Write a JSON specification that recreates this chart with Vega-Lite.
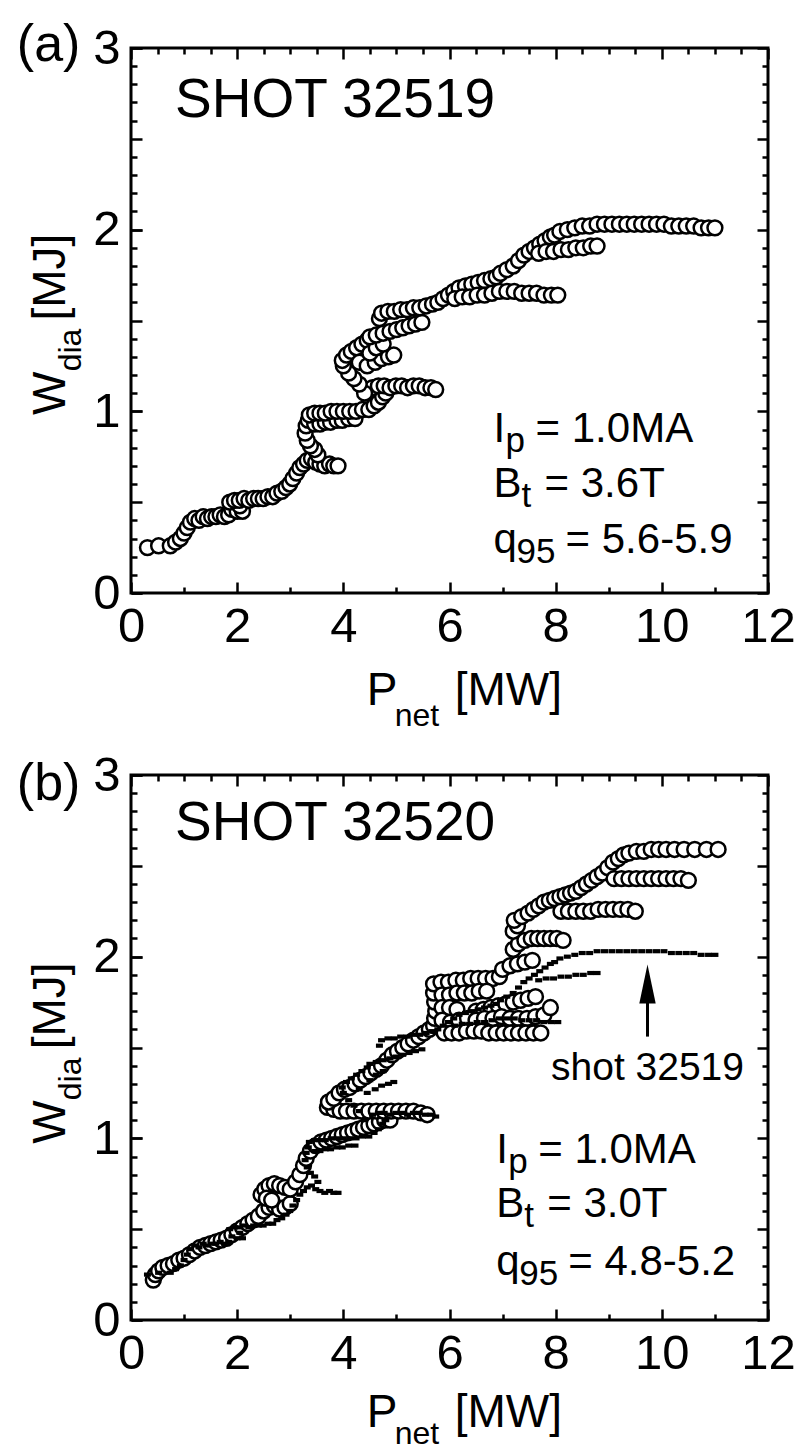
{
"$schema": "https://vega.github.io/schema/vega-lite/v6.json",
"padding": {"left": 15, "top": 17, "right": 0, "bottom": 0},
"spacing": 182,
"bounds": "flush",
"datasets": {
"shot32519": [
{"P":0.31,"W":0.25},{"P":0.52,"W":0.26},{"P":0.74,"W":0.26},{"P":0.84,"W":0.28},{"P":0.93,"W":0.30},{"P":1.0,"W":0.33},{"P":1.06,"W":0.36},{"P":1.12,"W":0.39},
{"P":1.2,"W":0.41},{"P":1.28,"W":0.40},{"P":1.36,"W":0.42},{"P":1.44,"W":0.41},{"P":1.52,"W":0.42},{"P":1.6,"W":0.42},{"P":1.68,"W":0.43},{"P":1.76,"W":0.42},{"P":1.84,"W":0.43},
{"P":1.9,"W":0.46},{"P":2.0,"W":0.45},{"P":2.1,"W":0.45},{"P":2.05,"W":0.48},
{"P":1.86,"W":0.50},{"P":1.95,"W":0.51},{"P":2.04,"W":0.51},{"P":2.13,"W":0.52},{"P":2.22,"W":0.51},{"P":2.31,"W":0.52},{"P":2.4,"W":0.52},{"P":2.49,"W":0.52},{"P":2.58,"W":0.53},{"P":2.67,"W":0.53},{"P":2.75,"W":0.55},
{"P":2.84,"W":0.56},{"P":2.92,"W":0.58},{"P":2.99,"W":0.6},{"P":3.05,"W":0.63},{"P":3.12,"W":0.66},{"P":3.18,"W":0.69},{"P":3.25,"W":0.71},{"P":3.32,"W":0.73},
{"P":3.4,"W":0.74},{"P":3.48,"W":0.72},{"P":3.56,"W":0.71},{"P":3.65,"W":0.70},{"P":3.74,"W":0.71},{"P":3.82,"W":0.70},{"P":3.9,"W":0.70},{"P":3.52,"W":0.76},{"P":3.46,"W":0.79},{"P":3.38,"W":0.81},
{"P":3.32,"W":0.84},{"P":3.28,"W":0.88},{"P":3.3,"W":0.92},{"P":3.34,"W":0.95},
{"P":3.46,"W":0.93},{"P":3.56,"W":0.93},{"P":3.66,"W":0.94},{"P":3.76,"W":0.94},{"P":3.88,"W":0.95},{"P":3.98,"W":0.95},{"P":4.1,"W":0.96},{"P":4.22,"W":0.96},
{"P":3.36,"W":0.98},{"P":3.46,"W":0.99},{"P":3.56,"W":0.99},{"P":3.66,"W":0.99},{"P":3.77,"W":1.0},{"P":3.88,"W":1.0},{"P":4.0,"W":1.0},{"P":4.12,"W":1.0},{"P":4.24,"W":1.0},{"P":4.36,"W":1.01},{"P":4.48,"W":1.01},
{"P":4.58,"W":1.03},{"P":4.66,"W":1.05},{"P":4.74,"W":1.08},{"P":4.8,"W":1.1},
{"P":4.55,"W":1.13},{"P":4.66,"W":1.14},{"P":4.77,"W":1.14},{"P":4.88,"W":1.13},{"P":4.99,"W":1.14},{"P":5.1,"W":1.14},{"P":5.21,"W":1.13},{"P":5.32,"W":1.14},{"P":5.43,"W":1.14},{"P":5.54,"W":1.13},{"P":5.65,"W":1.13},{"P":5.74,"W":1.12},
{"P":4.4,"W":1.1},{"P":4.3,"W":1.15},{"P":4.2,"W":1.18},{"P":4.1,"W":1.21},{"P":4.0,"W":1.25},{"P":3.98,"W":1.28},{"P":4.06,"W":1.31},{"P":4.15,"W":1.33},{"P":4.25,"W":1.35},{"P":4.35,"W":1.37},{"P":4.45,"W":1.39},{"P":4.3,"W":1.27},{"P":4.45,"W":1.25},{"P":4.6,"W":1.27},{"P":4.72,"W":1.29},{"P":4.85,"W":1.3},{"P":4.95,"W":1.31},{"P":4.5,"W":1.32},{"P":4.62,"W":1.35},{"P":4.75,"W":1.37},
{"P":4.5,"W":1.41},{"P":4.62,"W":1.42},{"P":4.75,"W":1.43},{"P":4.88,"W":1.44},{"P":5.0,"W":1.45},{"P":5.12,"W":1.46},{"P":5.24,"W":1.47},{"P":5.36,"W":1.48},{"P":5.48,"W":1.49},
{"P":4.68,"W":1.51},
{"P":4.72,"W":1.54},{"P":4.84,"W":1.55},{"P":4.96,"W":1.55},{"P":5.08,"W":1.56},{"P":5.2,"W":1.56},{"P":5.32,"W":1.57},{"P":5.44,"W":1.57},{"P":5.56,"W":1.58},{"P":5.68,"W":1.59},{"P":5.78,"W":1.6},
{"P":5.88,"W":1.62},{"P":5.98,"W":1.64},{"P":6.08,"W":1.66},{"P":6.18,"W":1.68},{"P":6.3,"W":1.69},{"P":6.42,"W":1.7},{"P":6.54,"W":1.71},{"P":6.66,"W":1.72},{"P":6.78,"W":1.73},{"P":6.88,"W":1.74},
{"P":6.1,"W":1.62},{"P":6.24,"W":1.63},{"P":6.38,"W":1.63},{"P":6.52,"W":1.64},{"P":6.66,"W":1.64},{"P":6.8,"W":1.65},{"P":6.94,"W":1.66},{"P":7.08,"W":1.66},{"P":7.22,"W":1.66},{"P":7.36,"W":1.65},{"P":7.5,"W":1.65},{"P":7.64,"W":1.65},{"P":7.78,"W":1.64},{"P":7.92,"W":1.64},{"P":8.04,"W":1.64},
{"P":6.96,"W":1.76},{"P":7.08,"W":1.78},{"P":7.2,"W":1.8},{"P":7.3,"W":1.83},{"P":7.4,"W":1.86},{"P":7.5,"W":1.88},{"P":7.6,"W":1.9},{"P":7.7,"W":1.92},{"P":7.8,"W":1.94},{"P":7.9,"W":1.96},{"P":7.98,"W":1.97},
{"P":7.68,"W":1.87},{"P":7.82,"W":1.88},{"P":7.96,"W":1.88},{"P":8.1,"W":1.89},{"P":8.24,"W":1.89},{"P":8.38,"W":1.9},{"P":8.52,"W":1.9},{"P":8.66,"W":1.91},{"P":8.78,"W":1.91},
{"P":8.08,"W":1.99},{"P":8.22,"W":2.0},{"P":8.36,"W":2.01},{"P":8.5,"W":2.02},{"P":8.64,"W":2.02},{"P":8.78,"W":2.03},{"P":8.92,"W":2.03},{"P":9.06,"W":2.03},{"P":9.2,"W":2.03},{"P":9.34,"W":2.03},{"P":9.48,"W":2.03},{"P":9.62,"W":2.03},{"P":9.76,"W":2.03},{"P":9.9,"W":2.03},{"P":10.04,"W":2.03},{"P":10.18,"W":2.02},{"P":10.32,"W":2.02},{"P":10.46,"W":2.02},{"P":10.6,"W":2.02},{"P":10.74,"W":2.01},{"P":10.88,"W":2.01},{"P":11.0,"W":2.01}
],
"shot32520": [
{"P":0.42,"W":0.22},{"P":0.46,"W":0.25},{"P":0.52,"W":0.27},{"P":0.6,"W":0.29},{"P":0.7,"W":0.30},{"P":0.8,"W":0.31},{"P":0.9,"W":0.33},{"P":1.0,"W":0.34},{"P":1.1,"W":0.36},{"P":1.2,"W":0.38},{"P":1.3,"W":0.40},{"P":1.4,"W":0.41},{"P":1.5,"W":0.42},{"P":1.6,"W":0.43},{"P":1.7,"W":0.44},{"P":1.8,"W":0.45},{"P":1.9,"W":0.47},{"P":2.0,"W":0.49},{"P":2.1,"W":0.51},{"P":2.2,"W":0.53},{"P":2.3,"W":0.55},{"P":2.4,"W":0.57},{"P":2.5,"W":0.6},{"P":2.6,"W":0.62},{"P":2.7,"W":0.63},{"P":2.8,"W":0.61},{"P":2.9,"W":0.62},{"P":3.0,"W":0.64},
{"P":2.45,"W":0.69},{"P":2.52,"W":0.72},{"P":2.6,"W":0.74},{"P":2.7,"W":0.75},{"P":2.8,"W":0.74},{"P":2.9,"W":0.73},{"P":3.0,"W":0.72},{"P":2.55,"W":0.67},{"P":2.65,"W":0.66},
{"P":3.1,"W":0.76},{"P":3.18,"W":0.8},{"P":3.25,"W":0.85},{"P":3.3,"W":0.89},{"P":3.38,"W":0.93},{"P":3.48,"W":0.96},{"P":3.58,"W":0.98},{"P":3.68,"W":0.99},{"P":3.78,"W":1.0},{"P":3.88,"W":1.01},{"P":3.98,"W":1.02},{"P":4.08,"W":1.03},{"P":4.18,"W":1.04},{"P":4.28,"W":1.05},{"P":4.38,"W":1.06},{"P":4.48,"W":1.07},{"P":4.58,"W":1.08},{"P":4.68,"W":1.09},{"P":4.78,"W":1.1},{"P":4.88,"W":1.1},
{"P":3.7,"W":1.17},{"P":3.82,"W":1.16},{"P":3.94,"W":1.15},{"P":4.06,"W":1.15},{"P":4.2,"W":1.15},{"P":4.34,"W":1.15},{"P":4.48,"W":1.15},{"P":4.62,"W":1.15},{"P":4.76,"W":1.15},{"P":4.9,"W":1.15},{"P":5.04,"W":1.15},{"P":5.18,"W":1.15},{"P":5.32,"W":1.15},{"P":5.46,"W":1.14},{"P":5.58,"W":1.13},
{"P":3.72,"W":1.2},{"P":3.82,"W":1.22},{"P":3.92,"W":1.25},{"P":4.02,"W":1.27},{"P":4.12,"W":1.28},{"P":4.22,"W":1.3},{"P":4.32,"W":1.32},{"P":4.42,"W":1.34},{"P":4.52,"W":1.36},{"P":4.62,"W":1.38},{"P":4.72,"W":1.4},{"P":4.82,"W":1.43},{"P":4.92,"W":1.46},{"P":5.02,"W":1.48},{"P":5.12,"W":1.5},{"P":5.22,"W":1.52},{"P":5.32,"W":1.54},{"P":5.42,"W":1.56},{"P":5.52,"W":1.58},{"P":5.62,"W":1.6},
{"P":5.7,"W":1.62},{"P":5.72,"W":1.66},{"P":5.74,"W":1.7},{"P":5.72,"W":1.75},{"P":5.7,"W":1.8},{"P":5.7,"W":1.85},
{"P":5.84,"W":1.86},{"P":5.98,"W":1.86},{"P":6.12,"W":1.87},{"P":6.26,"W":1.87},{"P":6.4,"W":1.88},{"P":6.54,"W":1.88},{"P":6.68,"W":1.88},{"P":6.82,"W":1.88},{"P":6.94,"W":1.89},
{"P":5.86,"W":1.79},{"P":6.0,"W":1.79},{"P":6.14,"W":1.8},{"P":6.28,"W":1.8},{"P":6.42,"W":1.8},{"P":6.56,"W":1.81},{"P":6.7,"W":1.81},
{"P":5.86,"W":1.72},{"P":6.0,"W":1.72},{"P":6.14,"W":1.71},{"P":6.5,"W":1.7},{"P":6.64,"W":1.71},{"P":6.78,"W":1.72},{"P":6.92,"W":1.73},{"P":7.06,"W":1.74},{"P":7.2,"W":1.75},{"P":7.34,"W":1.76},{"P":7.48,"W":1.77},{"P":7.62,"W":1.78},
{"P":5.86,"W":1.65},{"P":6.02,"W":1.64},{"P":6.18,"W":1.65},{"P":6.34,"W":1.66},{"P":6.5,"W":1.65},{"P":6.66,"W":1.66},{"P":6.82,"W":1.66},{"P":6.98,"W":1.67},{"P":7.14,"W":1.66},{"P":7.3,"W":1.66},{"P":7.46,"W":1.66},{"P":7.62,"W":1.67},{"P":7.78,"W":1.68},{"P":7.9,"W":1.72},
{"P":5.9,"W":1.58},{"P":6.04,"W":1.58},{"P":6.18,"W":1.58},{"P":6.32,"W":1.59},{"P":6.46,"W":1.59},{"P":6.6,"W":1.59},{"P":6.74,"W":1.58},{"P":6.88,"W":1.58},{"P":7.02,"W":1.58},{"P":7.16,"W":1.58},{"P":7.3,"W":1.58},{"P":7.44,"W":1.58},{"P":7.58,"W":1.58},{"P":7.72,"W":1.58},
{"P":7.0,"W":1.93},{"P":7.14,"W":1.95},{"P":7.28,"W":1.96},{"P":7.42,"W":1.97},{"P":7.56,"W":1.98},
{"P":7.2,"W":2.04},{"P":7.3,"W":2.07},{"P":7.42,"W":2.09},{"P":7.54,"W":2.1},{"P":7.66,"W":2.1},{"P":7.78,"W":2.1},{"P":7.9,"W":2.1},{"P":8.02,"W":2.1},{"P":8.14,"W":2.09},
{"P":7.2,"W":2.14},{"P":7.28,"W":2.17},{"P":7.22,"W":2.2},{"P":7.36,"W":2.22},{"P":7.48,"W":2.24},{"P":7.58,"W":2.26},{"P":7.68,"W":2.28},{"P":7.78,"W":2.3},{"P":7.88,"W":2.31},{"P":7.98,"W":2.32},{"P":8.08,"W":2.33},{"P":8.18,"W":2.34},{"P":8.28,"W":2.35},
{"P":8.1,"W":2.25},{"P":8.24,"W":2.25},{"P":8.38,"W":2.25},{"P":8.52,"W":2.25},{"P":8.66,"W":2.25},{"P":8.8,"W":2.26},{"P":8.94,"W":2.26},{"P":9.08,"W":2.26},{"P":9.22,"W":2.26},{"P":9.36,"W":2.26},{"P":9.5,"W":2.25},
{"P":8.38,"W":2.36},{"P":8.48,"W":2.38},{"P":8.58,"W":2.4},{"P":8.68,"W":2.42},{"P":8.78,"W":2.44},{"P":8.88,"W":2.46},{"P":8.98,"W":2.49},{"P":9.08,"W":2.52},{"P":9.18,"W":2.54},{"P":9.28,"W":2.56},
{"P":9.1,"W":2.43},{"P":9.24,"W":2.43},{"P":9.38,"W":2.43},{"P":9.52,"W":2.43},{"P":9.66,"W":2.43},{"P":9.8,"W":2.43},{"P":9.94,"W":2.43},{"P":10.08,"W":2.43},{"P":10.22,"W":2.43},{"P":10.36,"W":2.43},{"P":10.5,"W":2.42},
{"P":9.38,"W":2.57},{"P":9.52,"W":2.58},{"P":9.66,"W":2.58},{"P":9.8,"W":2.59},{"P":9.94,"W":2.59},{"P":10.08,"W":2.59},{"P":10.24,"W":2.59},{"P":10.42,"W":2.59},{"P":10.62,"W":2.59},{"P":10.84,"W":2.59},{"P":11.06,"W":2.59}
]
},
"vconcat": [
{
"width": 637, "height": 545,
"resolve": {"axis": {"x": "independent", "y": "independent"}},
"layer": [
{"data": {"name": "shot32519"},
 "mark": {"type": "point", "shape": "circle", "filled": true, "fill": "white", "stroke": "black", "strokeWidth": 2.5, "size": 220, "opacity": 1},
 "encoding": {
  "x": {"field": "P", "type": "quantitative", "scale": {"domain": [0, 12], "nice": false, "zero": false},
   "axis": {"orient": "bottom", "title": null, "values": [0,0.5,1,1.5,2,2.5,3,3.5,4,4.5,5,5.5,6,6.5,7,7.5,8,8.5,9,9.5,10,10.5,11,11.5,12], "format": "d", "labelOverlap": false, "labelExpr": "datum.value % 2 === 0 ? datum.label : ''", "tickSize": {"condition": {"test": "datum.value % 2 === 0", "value": -11}, "value": -6}, "labelPadding": 20}},
  "y": {"field": "W", "type": "quantitative", "scale": {"domain": [0, 3], "nice": false, "zero": false},
   "axis": {"orient": "left", "title": null, "values": [0,1,2,3], "format": "d", "labelOverlap": false, "tickSize": {"condition": {"test": "datum.value >= 0", "value": -11}, "value": -11}, "labelPadding": 22}}
 }},
{"data": {"name": "shot32519"},
 "mark": {"type": "point", "opacity": 0},
 "encoding": {
  "x": {"field": "P", "type": "quantitative", "axis": {"orient": "top", "title": null, "labels": false, "values": [0,0.5,1,1.5,2,2.5,3,3.5,4,4.5,5,5.5,6,6.5,7,7.5,8,8.5,9,9.5,10,10.5,11,11.5,12], "tickSize": {"condition": {"test": "datum.value % 2 === 0", "value": -11}, "value": -6}}},
  "y": {"field": "W", "type": "quantitative", "axis": {"orient": "right", "title": null, "labels": false, "values": [0,0.1,0.2,0.3,0.4,0.5,0.6,0.7,0.8,0.9,1,1.1,1.2,1.3,1.4,1.5,1.6,1.7,1.8,1.9,2,2.1,2.2,2.3,2.4,2.5,2.6,2.7,2.8,2.9,3], "tickSize": {"condition": {"test": "abs(datum.value*2 - round(datum.value*2)) < 0.001", "value": -11}, "value": -6}}}
 }},
{"data": {"name": "shot32519"},
 "mark": {"type": "point", "opacity": 0},
 "encoding": {
  "x": {"field": "P", "type": "quantitative", "axis": null},
  "y": {"field": "W", "type": "quantitative", "axis": {"orient": "left", "title": null, "labels": false, "values": [0,0.1,0.2,0.3,0.4,0.5,0.6,0.7,0.8,0.9,1,1.1,1.2,1.3,1.4,1.5,1.6,1.7,1.8,1.9,2,2.1,2.2,2.3,2.4,2.5,2.6,2.7,2.8,2.9,3], "tickSize": {"condition": {"test": "abs(datum.value*2 - round(datum.value*2)) < 0.001", "value": -11}, "value": -6}}}
 }},
{"data": {"values": [{}]}, "mark": {"type": "text", "text": "(a)", "fontSize": 52, "align": "left"}, "encoding": {"x": {"datum": -2.15, "type": "quantitative", "axis": null}, "y": {"datum": 2.93, "type": "quantitative", "axis": null}}},
{"data": {"values": [{}]}, "mark": {"type": "text", "text": "SHOT 32519", "fontSize": 55, "align": "left"}, "encoding": {"x": {"datum": 0.83, "type": "quantitative", "axis": null}, "y": {"datum": 2.62, "type": "quantitative", "axis": null}}},
{"data": {"values": [{}]}, "mark": {"type": "text", "text": "I", "fontSize": 42, "align": "left"}, "encoding": {"x": {"datum": 6.83, "type": "quantitative", "axis": null}, "y": {"datum": 0.83, "type": "quantitative", "axis": null}}},
{"data": {"values": [{}]}, "mark": {"type": "text", "text": "p", "fontSize": 35, "align": "left", "dx": 12, "dy": 10}, "encoding": {"x": {"datum": 6.83, "type": "quantitative", "axis": null}, "y": {"datum": 0.83, "type": "quantitative", "axis": null}}},
{"data": {"values": [{}]}, "mark": {"type": "text", "text": "= 1.0MA", "fontSize": 42, "align": "left", "dx": 42}, "encoding": {"x": {"datum": 6.83, "type": "quantitative", "axis": null}, "y": {"datum": 0.83, "type": "quantitative", "axis": null}}},
{"data": {"values": [{}]}, "mark": {"type": "text", "text": "B", "fontSize": 42, "align": "left"}, "encoding": {"x": {"datum": 6.83, "type": "quantitative", "axis": null}, "y": {"datum": 0.527, "type": "quantitative", "axis": null}}},
{"data": {"values": [{}]}, "mark": {"type": "text", "text": "t", "fontSize": 35, "align": "left", "dx": 28, "dy": 10}, "encoding": {"x": {"datum": 6.83, "type": "quantitative", "axis": null}, "y": {"datum": 0.527, "type": "quantitative", "axis": null}}},
{"data": {"values": [{}]}, "mark": {"type": "text", "text": "= 3.6T", "fontSize": 42, "align": "left", "dx": 51}, "encoding": {"x": {"datum": 6.83, "type": "quantitative", "axis": null}, "y": {"datum": 0.527, "type": "quantitative", "axis": null}}},
{"data": {"values": [{}]}, "mark": {"type": "text", "text": "q", "fontSize": 42, "align": "left"}, "encoding": {"x": {"datum": 6.83, "type": "quantitative", "axis": null}, "y": {"datum": 0.22, "type": "quantitative", "axis": null}}},
{"data": {"values": [{}]}, "mark": {"type": "text", "text": "95", "fontSize": 35, "align": "left", "dx": 23, "dy": 10}, "encoding": {"x": {"datum": 6.83, "type": "quantitative", "axis": null}, "y": {"datum": 0.22, "type": "quantitative", "axis": null}}},
{"data": {"values": [{}]}, "mark": {"type": "text", "text": "= 5.6-5.9", "fontSize": 42, "align": "left", "dx": 72}, "encoding": {"x": {"datum": 6.83, "type": "quantitative", "axis": null}, "y": {"datum": 0.22, "type": "quantitative", "axis": null}}},
{"data": {"values": [{}]}, "mark": {"type": "text", "text": "P", "fontSize": 46, "align": "left"}, "encoding": {"x": {"datum": 4.44, "type": "quantitative", "axis": null}, "y": {"datum": -0.617, "type": "quantitative", "axis": null}}},
{"data": {"values": [{}]}, "mark": {"type": "text", "text": "net", "fontSize": 32, "align": "left", "dx": 28, "dy": 21}, "encoding": {"x": {"datum": 4.44, "type": "quantitative", "axis": null}, "y": {"datum": -0.617, "type": "quantitative", "axis": null}}},
{"data": {"values": [{}]}, "mark": {"type": "text", "text": "[MW]", "fontSize": 46, "align": "left", "dx": 88}, "encoding": {"x": {"datum": 4.44, "type": "quantitative", "axis": null}, "y": {"datum": -0.617, "type": "quantitative", "axis": null}}},
{"data": {"values": [{}]}, "mark": {"type": "text", "text": "W", "fontSize": 46, "align": "left", "angle": 270}, "encoding": {"x": {"datum": -1.24, "type": "quantitative", "axis": null}, "y": {"datum": 0.98, "type": "quantitative", "axis": null}}},
{"data": {"values": [{}]}, "mark": {"type": "text", "text": "dia", "fontSize": 32, "align": "left", "angle": 270}, "encoding": {"x": {"datum": -0.95, "type": "quantitative", "axis": null}, "y": {"datum": 1.22, "type": "quantitative", "axis": null}}},
{"data": {"values": [{}]}, "mark": {"type": "text", "text": "[MJ]", "fontSize": 46, "align": "left", "angle": 270}, "encoding": {"x": {"datum": -1.24, "type": "quantitative", "axis": null}, "y": {"datum": 1.5, "type": "quantitative", "axis": null}}}
]
},
{
"width": 637, "height": 545,
"resolve": {"axis": {"x": "independent", "y": "independent"}},
"layer": [
{"data": {"name": "shot32520"},
 "mark": {"type": "point", "shape": "circle", "filled": true, "fill": "white", "stroke": "black", "strokeWidth": 2.5, "size": 220, "opacity": 1},
 "encoding": {
  "x": {"field": "P", "type": "quantitative", "scale": {"domain": [0, 12], "nice": false, "zero": false},
   "axis": {"orient": "bottom", "title": null, "values": [0,0.5,1,1.5,2,2.5,3,3.5,4,4.5,5,5.5,6,6.5,7,7.5,8,8.5,9,9.5,10,10.5,11,11.5,12], "format": "d", "labelOverlap": false, "labelExpr": "datum.value % 2 === 0 ? datum.label : ''", "tickSize": {"condition": {"test": "datum.value % 2 === 0", "value": -11}, "value": -6}, "labelPadding": 20}},
  "y": {"field": "W", "type": "quantitative", "scale": {"domain": [0, 3], "nice": false, "zero": false},
   "axis": {"orient": "left", "title": null, "values": [0,1,2,3], "format": "d", "labelOverlap": false, "tickSize": {"condition": {"test": "datum.value >= 0", "value": -11}, "value": -11}, "labelPadding": 22}}
 }},
{"data": {"name": "shot32520"},
 "mark": {"type": "point", "opacity": 0},
 "encoding": {
  "x": {"field": "P", "type": "quantitative", "axis": {"orient": "top", "title": null, "labels": false, "values": [0,0.5,1,1.5,2,2.5,3,3.5,4,4.5,5,5.5,6,6.5,7,7.5,8,8.5,9,9.5,10,10.5,11,11.5,12], "tickSize": {"condition": {"test": "datum.value % 2 === 0", "value": -11}, "value": -6}}},
  "y": {"field": "W", "type": "quantitative", "axis": {"orient": "right", "title": null, "labels": false, "values": [0,0.1,0.2,0.3,0.4,0.5,0.6,0.7,0.8,0.9,1,1.1,1.2,1.3,1.4,1.5,1.6,1.7,1.8,1.9,2,2.1,2.2,2.3,2.4,2.5,2.6,2.7,2.8,2.9,3], "tickSize": {"condition": {"test": "abs(datum.value*2 - round(datum.value*2)) < 0.001", "value": -11}, "value": -6}}}
 }},
{"data": {"name": "shot32520"},
 "mark": {"type": "point", "opacity": 0},
 "encoding": {
  "x": {"field": "P", "type": "quantitative", "axis": null},
  "y": {"field": "W", "type": "quantitative", "axis": {"orient": "left", "title": null, "labels": false, "values": [0,0.1,0.2,0.3,0.4,0.5,0.6,0.7,0.8,0.9,1,1.1,1.2,1.3,1.4,1.5,1.6,1.7,1.8,1.9,2,2.1,2.2,2.3,2.4,2.5,2.6,2.7,2.8,2.9,3], "tickSize": {"condition": {"test": "abs(datum.value*2 - round(datum.value*2)) < 0.001", "value": -11}, "value": -6}}}
 }},
{"data": {"name": "shot32519"},
 "mark": {"type": "point", "shape": "M-1,-0.6H1V0.6H-1Z", "filled": true, "color": "black", "size": 49, "opacity": 1},
 "encoding": {"x": {"field": "P", "type": "quantitative", "axis": null}, "y": {"field": "W", "type": "quantitative", "axis": null}}},
{"data": {"values": [{}]}, "mark": {"type": "rule", "strokeWidth": 3, "color": "black"}, "encoding": {"x": {"datum": 9.73, "type": "quantitative", "axis": null}, "y": {"datum": 1.56, "type": "quantitative", "axis": null}, "y2": {"datum": 1.8}}},
{"data": {"values": [{}]}, "mark": {"type": "point", "shape": "M0,-1L0.42,1L-0.42,1Z", "filled": true, "color": "black", "size": 1521, "opacity": 1}, "encoding": {"x": {"datum": 9.73, "type": "quantitative", "axis": null}, "y": {"datum": 1.85, "type": "quantitative", "axis": null}}},
{"data": {"values": [{}]}, "mark": {"type": "text", "text": "shot 32519", "fontSize": 39, "align": "center"}, "encoding": {"x": {"datum": 9.73, "type": "quantitative", "axis": null}, "y": {"datum": 1.32, "type": "quantitative", "axis": null}}},
{"data": {"values": [{}]}, "mark": {"type": "text", "text": "(b)", "fontSize": 52, "align": "left"}, "encoding": {"x": {"datum": -2.15, "type": "quantitative", "axis": null}, "y": {"datum": 2.86, "type": "quantitative", "axis": null}}},
{"data": {"values": [{}]}, "mark": {"type": "text", "text": "SHOT 32520", "fontSize": 55, "align": "left"}, "encoding": {"x": {"datum": 0.83, "type": "quantitative", "axis": null}, "y": {"datum": 2.64, "type": "quantitative", "axis": null}}},
{"data": {"values": [{}]}, "mark": {"type": "text", "text": "I", "fontSize": 42, "align": "left"}, "encoding": {"x": {"datum": 6.88, "type": "quantitative", "axis": null}, "y": {"datum": 0.866, "type": "quantitative", "axis": null}}},
{"data": {"values": [{}]}, "mark": {"type": "text", "text": "p", "fontSize": 35, "align": "left", "dx": 12, "dy": 10}, "encoding": {"x": {"datum": 6.88, "type": "quantitative", "axis": null}, "y": {"datum": 0.866, "type": "quantitative", "axis": null}}},
{"data": {"values": [{}]}, "mark": {"type": "text", "text": "= 1.0MA", "fontSize": 42, "align": "left", "dx": 42}, "encoding": {"x": {"datum": 6.88, "type": "quantitative", "axis": null}, "y": {"datum": 0.866, "type": "quantitative", "axis": null}}},
{"data": {"values": [{}]}, "mark": {"type": "text", "text": "B", "fontSize": 42, "align": "left"}, "encoding": {"x": {"datum": 6.88, "type": "quantitative", "axis": null}, "y": {"datum": 0.568, "type": "quantitative", "axis": null}}},
{"data": {"values": [{}]}, "mark": {"type": "text", "text": "t", "fontSize": 35, "align": "left", "dx": 28, "dy": 10}, "encoding": {"x": {"datum": 6.88, "type": "quantitative", "axis": null}, "y": {"datum": 0.568, "type": "quantitative", "axis": null}}},
{"data": {"values": [{}]}, "mark": {"type": "text", "text": "= 3.0T", "fontSize": 42, "align": "left", "dx": 51}, "encoding": {"x": {"datum": 6.88, "type": "quantitative", "axis": null}, "y": {"datum": 0.568, "type": "quantitative", "axis": null}}},
{"data": {"values": [{}]}, "mark": {"type": "text", "text": "q", "fontSize": 42, "align": "left"}, "encoding": {"x": {"datum": 6.88, "type": "quantitative", "axis": null}, "y": {"datum": 0.248, "type": "quantitative", "axis": null}}},
{"data": {"values": [{}]}, "mark": {"type": "text", "text": "95", "fontSize": 35, "align": "left", "dx": 23, "dy": 10}, "encoding": {"x": {"datum": 6.88, "type": "quantitative", "axis": null}, "y": {"datum": 0.248, "type": "quantitative", "axis": null}}},
{"data": {"values": [{}]}, "mark": {"type": "text", "text": "= 4.8-5.2", "fontSize": 42, "align": "left", "dx": 72}, "encoding": {"x": {"datum": 6.88, "type": "quantitative", "axis": null}, "y": {"datum": 0.248, "type": "quantitative", "axis": null}}},
{"data": {"values": [{}]}, "mark": {"type": "text", "text": "P", "fontSize": 46, "align": "left"}, "encoding": {"x": {"datum": 4.44, "type": "quantitative", "axis": null}, "y": {"datum": -0.59, "type": "quantitative", "axis": null}}},
{"data": {"values": [{}]}, "mark": {"type": "text", "text": "net", "fontSize": 32, "align": "left", "dx": 28, "dy": 17}, "encoding": {"x": {"datum": 4.44, "type": "quantitative", "axis": null}, "y": {"datum": -0.59, "type": "quantitative", "axis": null}}},
{"data": {"values": [{}]}, "mark": {"type": "text", "text": "[MW]", "fontSize": 46, "align": "left", "dx": 88}, "encoding": {"x": {"datum": 4.44, "type": "quantitative", "axis": null}, "y": {"datum": -0.59, "type": "quantitative", "axis": null}}},
{"data": {"values": [{}]}, "mark": {"type": "text", "text": "W", "fontSize": 46, "align": "left", "angle": 270}, "encoding": {"x": {"datum": -1.24, "type": "quantitative", "axis": null}, "y": {"datum": 0.97, "type": "quantitative", "axis": null}}},
{"data": {"values": [{}]}, "mark": {"type": "text", "text": "dia", "fontSize": 32, "align": "left", "angle": 270}, "encoding": {"x": {"datum": -0.95, "type": "quantitative", "axis": null}, "y": {"datum": 1.21, "type": "quantitative", "axis": null}}},
{"data": {"values": [{}]}, "mark": {"type": "text", "text": "[MJ]", "fontSize": 46, "align": "left", "angle": 270}, "encoding": {"x": {"datum": -1.24, "type": "quantitative", "axis": null}, "y": {"datum": 1.49, "type": "quantitative", "axis": null}}}
]
}
],
"config": {
 "font": "Liberation Sans",
 "view": {"stroke": "black", "strokeWidth": 3},
 "text": {"font": "Liberation Sans", "color": "black", "baseline": "alphabetic"},
 "axis": {"domain": false, "grid": false, "tickColor": "black", "tickWidth": 2.5, "labelFont": "Liberation Sans", "labelFontSize": 49, "labelColor": "black", "labelOverlap": false, "labelFlush": false, "labelBound": false}
}
}
